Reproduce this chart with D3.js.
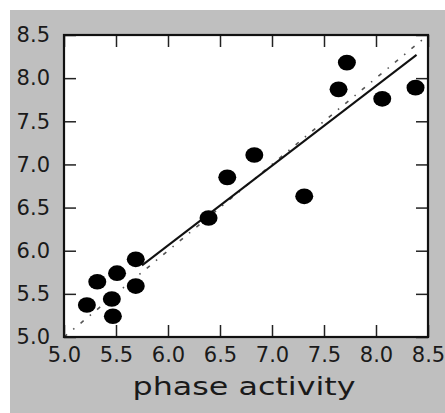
<!DOCTYPE html>
<html>
<head>
<meta charset="utf-8">
<script src="https://cdn.jsdelivr.net/npm/d3@7"></script>
<style>
  html, body { margin: 0; padding: 0; background: #fff; }
  text { font-family: "DejaVu Sans", sans-serif; fill: #1a1a1a; }
</style>
</head>
<body>
<div id="chart"></div>
<script>
// observed points
const phaseX = [7.72, 7.64, 8.06, 8.38, 6.83, 6.57, 7.31, 6.39, 5.69, 5.51, 5.32, 5.69, 5.46, 5.22, 5.47];
const phaseY = [8.18, 7.87, 7.76, 7.89, 7.11, 6.85, 6.63, 6.38, 5.90, 5.74, 5.64, 5.59, 5.44, 5.37, 5.24];

// fitted line and identity line
const fitX = [5.75, 8.39];
const fitY = [5.83, 8.27];
const identX = [5.0, 8.5];
const identY = [5.0, 8.5];

const tickValues = [5.0, 5.5, 6.0, 6.5, 7.0, 7.5, 8.0, 8.5];
const xLabel = "phase activity";

const width = 445, height = 413;
const plot = { left: 64, top: 35, right: 428, bottom: 337 };

const svg = d3.select("#chart")
  .append("svg")
  .attr("width", width)
  .attr("height", height);

svg.append("rect")
  .attr("x", 10).attr("y", 10)
  .attr("width", width - 10).attr("height", height - 10)
  .attr("fill", "#bfbfbf");

svg.append("rect")
  .attr("x", plot.left).attr("y", plot.top)
  .attr("width", plot.right - plot.left).attr("height", plot.bottom - plot.top)
  .attr("fill", "#fff");

const x = d3.scaleLinear().domain([5, 8.5]).range([plot.left, plot.right]);
const y = d3.scaleLinear().domain([5, 8.5]).range([plot.bottom, plot.top]);

svg.append("clipPath").attr("id", "clip")
  .append("rect")
  .attr("x", plot.left).attr("y", plot.top)
  .attr("width", plot.right - plot.left).attr("height", plot.bottom - plot.top);

const g = svg.append("g").attr("clip-path", "url(#clip)");

const line = d3.line().x(d => x(d[0])).y(d => y(d[1]));

g.append("path")
  .datum(d3.zip(identX, identY))
  .attr("d", line)
  .attr("fill", "none")
  .attr("stroke", "#555")
  .attr("stroke-width", 1.6)
  .attr("stroke-dasharray", "4,8,1.5,8");

g.append("path")
  .datum(d3.zip(fitX, fitY))
  .attr("d", line)
  .attr("fill", "none")
  .attr("stroke", "#111")
  .attr("stroke-width", 2);

g.selectAll("ellipse")
  .data(d3.zip(phaseX, phaseY))
  .enter().append("ellipse")
  .attr("cx", d => x(d[0]))
  .attr("cy", d => y(d[1]))
  .attr("rx", 9)
  .attr("ry", 7.8)
  .attr("fill", "#000");

// inward ticks on all four sides
const tickLen = 12;
const fmt = d3.format(".1f");

svg.append("g")
  .attr("transform", `translate(0,${plot.bottom})`)
  .call(d3.axisBottom(x).tickValues(tickValues).tickSize(-tickLen).tickPadding(6).tickFormat(fmt))
  .call(a => a.select(".domain").remove())
  .call(a => a.selectAll("line").attr("stroke", "#222").attr("stroke-width", 1.5))
  .call(a => a.selectAll("text").attr("font-size", 21).attr("fill", "#1a1a1a").attr("dy", "0.8em").attr("y", 8));

svg.append("g")
  .attr("transform", `translate(0,${plot.top})`)
  .call(d3.axisTop(x).tickValues(tickValues).tickSize(-tickLen).tickFormat(""))
  .call(a => a.select(".domain").remove())
  .call(a => a.selectAll("line").attr("stroke", "#222").attr("stroke-width", 1.5));

svg.append("g")
  .attr("transform", `translate(${plot.left},0)`)
  .call(d3.axisLeft(y).tickValues(tickValues).tickSize(-tickLen).tickPadding(14).tickFormat(fmt))
  .call(a => a.select(".domain").remove())
  .call(a => a.selectAll("line").attr("stroke", "#222").attr("stroke-width", 1.5))
  .call(a => a.selectAll("text").attr("font-size", 21).attr("fill", "#1a1a1a"));

svg.append("g")
  .attr("transform", `translate(${plot.right},0)`)
  .call(d3.axisRight(y).tickValues(tickValues).tickSize(-tickLen).tickFormat(""))
  .call(a => a.select(".domain").remove())
  .call(a => a.selectAll("line").attr("stroke", "#222").attr("stroke-width", 1.5));

svg.selectAll(".tick text").attr("font-family", "DejaVu Sans, sans-serif");

svg.append("rect")
  .attr("x", plot.left).attr("y", plot.top)
  .attr("width", plot.right - plot.left).attr("height", plot.bottom - plot.top)
  .attr("fill", "none")
  .attr("stroke", "#111")
  .attr("stroke-width", 2.2);

svg.append("text")
  .attr("x", (plot.left + plot.right) / 2 - 2)
  .attr("y", 395)
  .attr("text-anchor", "middle")
  .attr("font-size", 24)
  .attr("textLength", 223)
  .attr("lengthAdjust", "spacingAndGlyphs")
  .text(xLabel);
</script>
</body>
</html>
